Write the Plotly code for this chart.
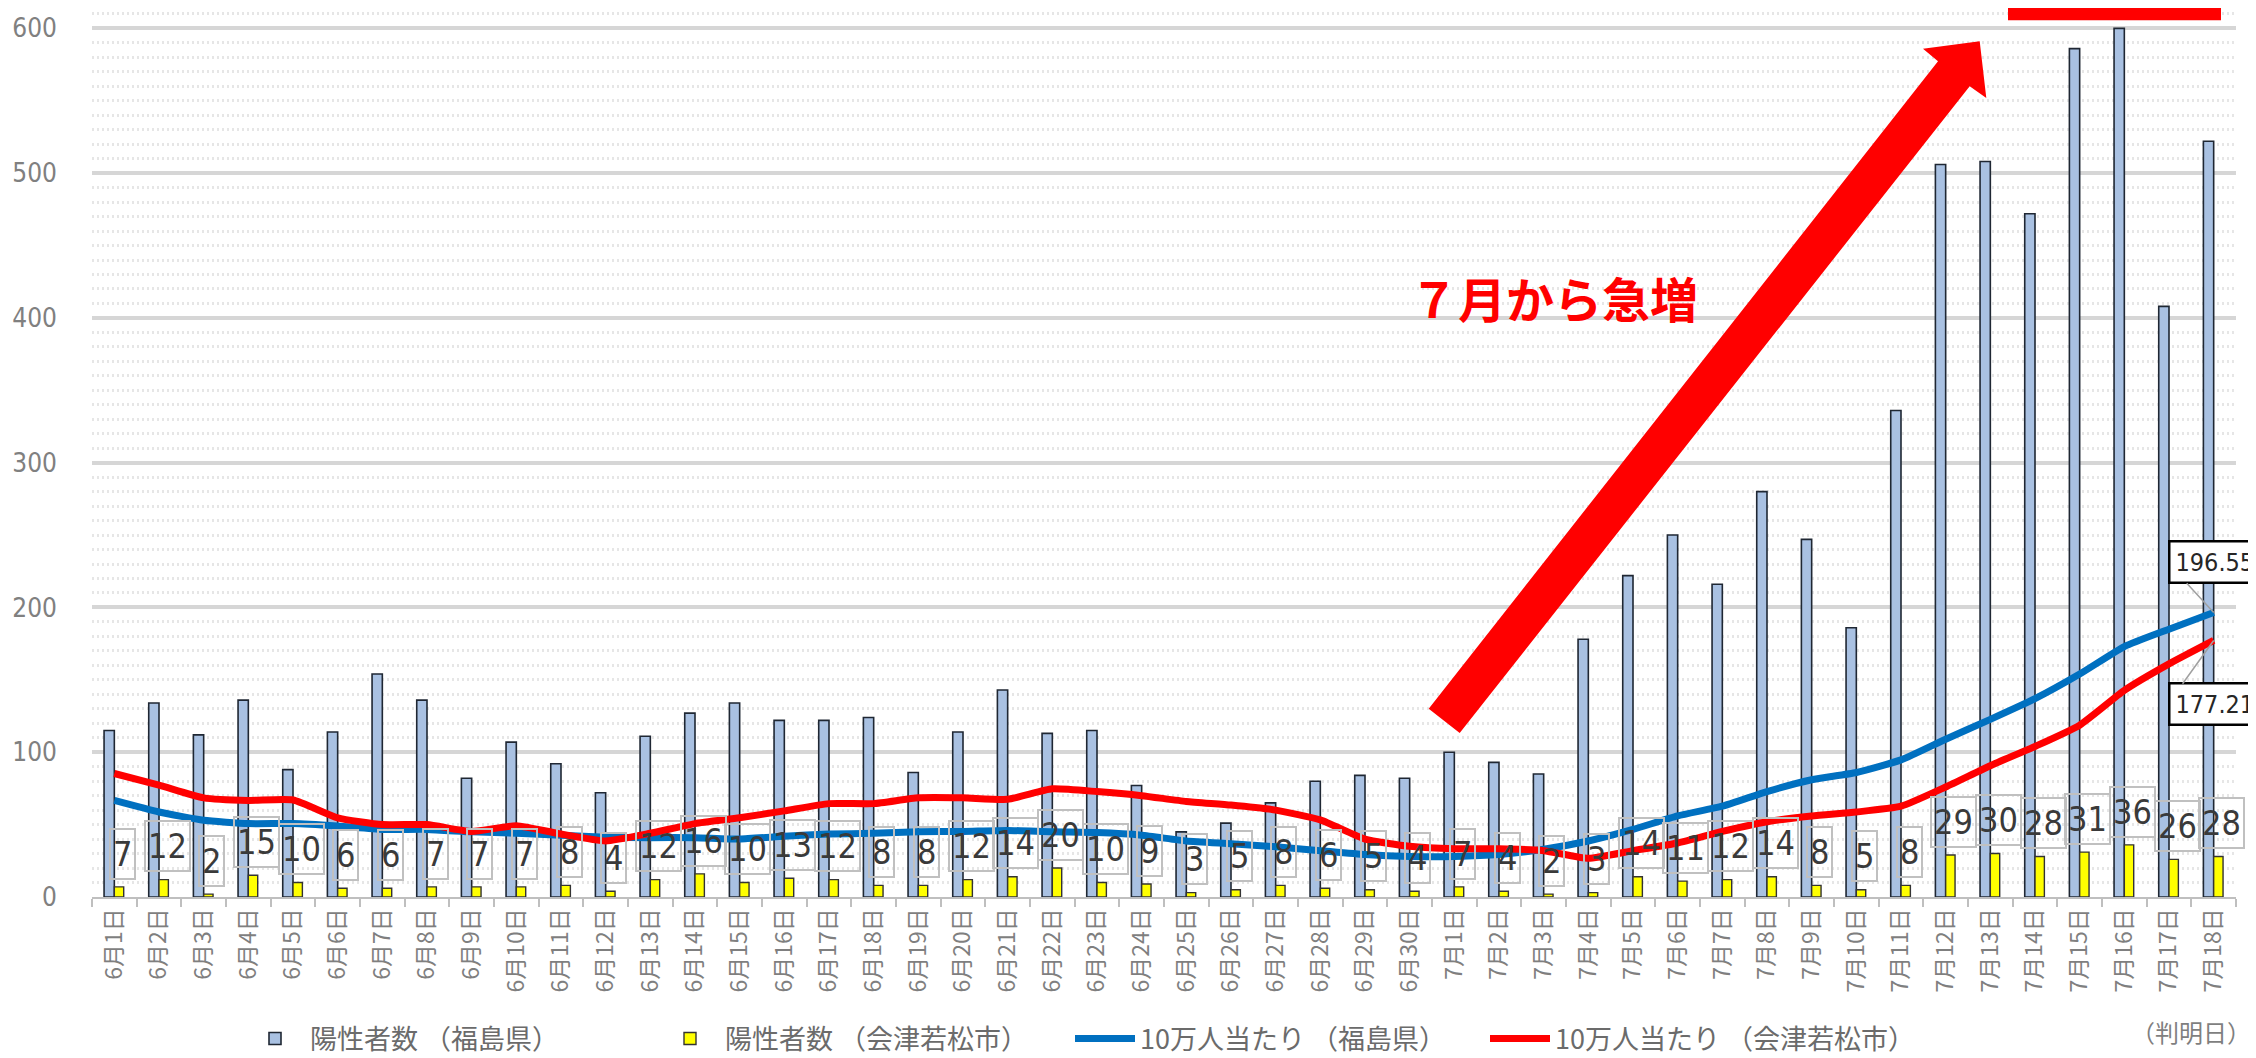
import plotly.graph_objects as go

# ---------------- data ----------------
dates = [f"6月{d}日" for d in range(1, 31)] + [f"7月{d}日" for d in range(1, 19)]

fukushima_cases = [115, 134, 112, 136, 88, 114, 154, 136, 82, 107, 92, 72, 111, 127, 134, 122,
                   122, 124, 86, 114, 143, 113, 115, 77, 45, 51, 65, 80, 84, 82,
                   100, 93, 85, 178, 222, 250, 216, 280, 247, 186, 336, 506, 508, 472, 586, 600, 408, 522]

aizu_cases = [7, 12, 2, 15, 10, 6, 6, 7, 7, 7, 8, 4, 12, 16, 10, 13,
              12, 8, 8, 12, 14, 20, 10, 9, 3, 5, 8, 6, 5, 4,
              7, 4, 2, 3, 14, 11, 12, 14, 8, 5, 8, 29, 30, 28, 31, 36, 26, 28]

fukushima_per100k = [66.7, 58.7, 53.0, 50.7, 50.7, 49.0, 46.7, 46.7, 45.0, 44.0, 42.7, 41.3, 41.0, 41.0, 40.0, 42.0,
                     43.5, 44.0, 45.0, 45.3, 46.0, 45.0, 44.5, 42.7, 38.7, 36.8, 34.7, 32.0, 29.3, 28.0,
                     28.0, 29.3, 33.0, 38.7, 46.7, 56.0, 62.7, 72.8, 81.0, 86.0, 94.7, 109.0, 122.7, 137.0,
                     154.0, 173.0, 185.0, 196.55]

aizu_per100k = [85.3, 77.3, 68.5, 66.7, 67.0, 54.7, 50.0, 50.0, 45.3, 49.3, 43.5, 38.7, 44.0, 50.7, 54.7, 59.5,
                64.5, 64.5, 68.5, 68.5, 67.5, 74.7, 72.8, 70.0, 66.0, 63.5, 60.0, 53.3, 40.0, 35.0,
                33.3, 33.3, 32.0, 26.7, 32.0, 37.3, 45.3, 52.0, 56.0, 58.7, 62.7, 76.0, 90.7, 104.0,
                118.7, 142.7, 161.0, 177.21]

series_names = ["陽性者数 （福島県）", "陽性者数 （会津若松市）", "10万人当たり （福島県）", "10万人当たり （会津若松市）"]
y_ticks = [0, 100, 200, 300, 400, 500, 600]

# ---------------- layout geometry ----------------
W, H = 2256, 1058
ML, MR, MT, MB = 84, 28, 3, 169
PW, PH = W - ML - MR, H - MT - MB
NARROW = "DejaVu Sans Condensed, Liberation Sans Narrow, sans-serif"
JP = "Noto Sans CJK JP, Noto Sans, sans-serif"


def px2paper(px, py):
    return (px - ML) / PW, (H - MB - py) / PH


fig = go.Figure()

fig.add_trace(go.Bar(
    x=dates, y=fukushima_cases, name=series_names[0],
    width=0.23, offset=-0.23,
    marker=dict(color="#a9c1e2", line=dict(color="#1f2733", width=1.6)),
))
fig.add_trace(go.Bar(
    x=dates, y=aizu_cases, name=series_names[1],
    width=0.21, offset=0.0,
    marker=dict(color="#ffff00", line=dict(color="#333333", width=1.4)),
))
fig.add_trace(go.Scatter(
    x=dates, y=fukushima_per100k, name=series_names[2], mode="lines",
    line=dict(color="#0070c0", width=7, shape="spline", smoothing=0.5),
))
fig.add_trace(go.Scatter(
    x=dates, y=aizu_per100k, name=series_names[3], mode="lines",
    line=dict(color="#ff0000", width=7, shape="spline", smoothing=0.5),
))

annotations = []
# data labels for Aizu bars
for d, v in zip(dates, aizu_cases):
    annotations.append(dict(
        x=d, y=v + 23, text=str(v), showarrow=False, xshift=8,
        font=dict(family=NARROW, size=34, color="#3a3a3a"),
        bordercolor="#c0c0c0", borderwidth=2, borderpad=2,
        height=44, bgcolor="rgba(255,255,255,0)",
    ))

# end-point labels
annotations.append(dict(
    x=dates[-1], y=fukushima_per100k[-1], text=f"{fukushima_per100k[-1]:.2f}",
    showarrow=True, arrowhead=0, arrowwidth=1.5, arrowcolor="#a0a0a0",
    ax=-46, ay=-50, xanchor="left", yanchor="middle",
    font=dict(family=NARROW, size=25, color="#262626"),
    bordercolor="#000000", borderwidth=2.5, borderpad=5, bgcolor="#ffffff",
))
annotations.append(dict(
    x=dates[-1], y=aizu_per100k[-1], text=f"{aizu_per100k[-1]:.2f}",
    showarrow=True, arrowhead=0, arrowwidth=1.5, arrowcolor="#a0a0a0",
    ax=-46, ay=64, xanchor="left", yanchor="middle",
    font=dict(family=NARROW, size=25, color="#262626"),
    bordercolor="#000000", borderwidth=2.5, borderpad=5, bgcolor="#ffffff",
))

# headline text
tx, ty = px2paper(1546, 289)
annotations.append(dict(
    x=tx, y=ty, xref="paper", yref="paper", text="７月から急増", showarrow=False,
    xanchor="center", yanchor="middle",
    font=dict(family="Noto Sans CJK JP", size=48, color="#ff0000", weight=700),
))
# (判明日)
jx, jy = px2paper(2183, 1023)
annotations.append(dict(
    x=jx, y=jy, xref="paper", yref="paper", text="（判明日）", showarrow=False,
    xanchor="center", yanchor="middle",
    font=dict(family=JP, size=24, color="#7f7f7f"),
))

# big red arrow polygon
arrow_pts = [(1420.7, 700.7), (1930, 53.3), (1915, 40.7), (1971.7, 33.3),
             (1978.3, 90), (1961.7, 78.3), (1451.7, 725)]
path = ""
for i, (px, py) in enumerate(arrow_pts):
    xp, yp = px2paper(px, py)
    path += ("M" if i == 0 else "L") + f"{xp:.5f},{yp:.5f} "
path += "Z"

rx0, ry0 = px2paper(2000, 12.3)
rx1, ry1 = px2paper(2213, -2)
shapes = [
    dict(type="path", path=path, xref="paper", yref="paper",
         fillcolor="#ff0000", line=dict(width=0), layer="above"),
    dict(type="rect", x0=rx0, y0=ry0, x1=rx1, y1=ry1, xref="paper", yref="paper",
         fillcolor="#ff0000", line=dict(width=0), layer="above"),
]

lx, ly = px2paper(1062, 1031)
fig.update_layout(
    width=W, height=H,
    margin=dict(l=ML, r=MR, t=MT, b=MB, pad=0, autoexpand=False),
    paper_bgcolor="white", plot_bgcolor="white",
    barmode="overlay",
    showlegend=True,
    legend=dict(orientation="h", x=lx, y=ly, xanchor="center", yanchor="middle",
                font=dict(family=JP, size=27, color="#6b6b6b"),
                itemwidth=60, entrywidth=340, traceorder="normal"),
    annotations=annotations,
    shapes=shapes,
    font=dict(family=JP),
)

fig.update_xaxes(
    type="category", range=[-0.5, len(dates) - 0.5], automargin=False,
    tickangle=-90, tickfont=dict(family=JP, size=23, color="#7f7f7f"),
    showline=True, linecolor="#bfbfbf", linewidth=2,
    ticks="outside", tickson="boundaries", ticklen=8, tickcolor="#bfbfbf", tickwidth=2,
    showgrid=False, zeroline=False,
)
fig.update_yaxes(
    range=[0, 612], tickvals=y_ticks, automargin=False,
    tickfont=dict(family=NARROW, size=26, color="#808080"),
    showgrid=True, gridcolor="#d6d6d6", gridwidth=4,
    minor=dict(dtick=10, showgrid=True, gridcolor="#e6e6e6", gridwidth=3, griddash="2px,3px"),
    zeroline=False, showline=False, ticks="", ticklabelstandoff=34,
)

fig.write_html("out.html")
